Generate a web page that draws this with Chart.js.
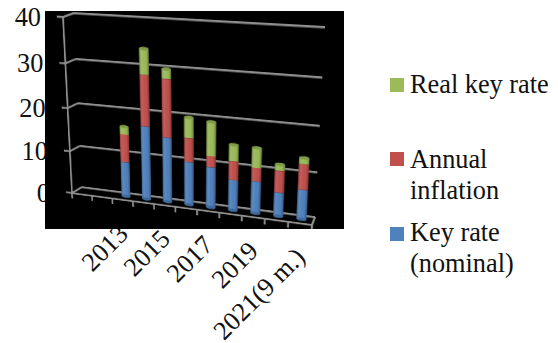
<!DOCTYPE html>
<html>
<head>
<meta charset="utf-8">
<script src="https://cdn.jsdelivr.net/npm/chart.js@4"></script>
<style>
  html, body { margin: 0; padding: 0; background: #fff; }
  body { width: 558px; height: 343px; overflow: hidden; position: relative;
         font-family: "Liberation Serif", serif; font-size: 26.3px; color: #111; }
  #plot { position: absolute; left: 45px; top: 11px; width: 299px; height: 218px;
          background: #000; overflow: hidden; }
  #plot canvas { position: absolute; left: -45px; top: -11px; transform-origin: 0 0; }
  .tick { position: absolute; white-space: nowrap; line-height: 1; }
  .ytick { transform: translate(-100%, -50%); }
  .xtick { transform: translate(-100%, -50%) rotate(-45deg); transform-origin: 100% 50%; }
  .swatch { position: absolute; left: 390px; width: 14px; height: 14px; }
  .entry { position: absolute; left: 410px; line-height: 31px; white-space: pre; }
</style>
</head>
<body>
<div id="plot"><canvas id="chart" width="420" height="320"></canvas></div>
<script>
const categories = ['', '', '2013', '2014', '2015', '2016', '2017', '2018', '2019', '2020', '2021(9 m.)'];
const keyRate = [null, null, 8.25, 17, 15, 10, 9.4, 7.1, 7.4, 5.5, 6.75];
const inflation = [null, null, 6.45, 11.36, 12.9, 5.4, 2.5, 4.2, 3.05, 4.9, 5.6];
const realRate = [null, null, 1.8, 5.64, 2.1, 4.6, 7.6, 3.7, 4.4, 1.4, 1.4];
const yTicks = [0, 10, 20, 30, 40];

const legendLabels = ['Real key rate', 'Annual\ninflation', 'Key rate\n(nominal)'];
const legendColors = ['#9BBB59', '#C0504D', '#4F81BD'];
const legendTops = [78, 152, 227];
const legendTextTops = [69, 144, 217];

// back wall corners on the page: top left, top right, bottom right, bottom left
const wall = [[74, 13], [325, 27], [315, 217], [82, 187]];
// front plane corners on the page: bottom left, bottom right, top left
const front = [[72, 193], [312, 225], [63, 17]];
const barDepth = 0.6;   // bars stand between the wall (0) and the front (1)

const gridColor = '#8f8f8f';

let H = null;

function buildHomography(area) {
  const [[x0, y0], [x1, y1], [x2, y2], [x3, y3]] = wall;
  const dx1 = x1 - x2, dx2 = x3 - x2, sx = x0 - x1 + x2 - x3;
  const dy1 = y1 - y2, dy2 = y3 - y2, sy = y0 - y1 + y2 - y3;
  const den = dx1 * dy2 - dx2 * dy1;
  const g = (sx * dy2 - dx2 * sy) / den;
  const h = (dx1 * sy - sx * dy1) / den;
  const a = x1 - x0 + g * x1, b = x3 - x0 + h * x3;
  const d = y1 - y0 + g * y1, e = y3 - y0 + h * y3;
  const W = area.right - area.left, Ht = area.bottom - area.top;
  const L = area.left, T = area.top;
  return [
    a / W, b / Ht, x0 - a * L / W - b * T / Ht,
    d / W, e / Ht, y0 - d * L / W - e * T / Ht,
    g / W, h / Ht, 1 - g * L / W - h * T / Ht
  ];
}

function toPage(p) {
  const w = H[6] * p[0] + H[7] * p[1] + H[8];
  return [(H[0] * p[0] + H[1] * p[1] + H[2]) / w, (H[3] * p[0] + H[4] * p[1] + H[5]) / w];
}

function fromPage(p) {
  // inverse of a 3x3 through its adjugate
  const m = H;
  const inv = [
    m[4] * m[8] - m[5] * m[7], m[2] * m[7] - m[1] * m[8], m[1] * m[5] - m[2] * m[4],
    m[5] * m[6] - m[3] * m[8], m[0] * m[8] - m[2] * m[6], m[2] * m[3] - m[0] * m[5],
    m[3] * m[7] - m[4] * m[6], m[1] * m[6] - m[0] * m[7], m[0] * m[4] - m[1] * m[3]
  ];
  const w = inv[6] * p[0] + inv[7] * p[1] + inv[8];
  return [(inv[0] * p[0] + inv[1] * p[1] + inv[2]) / w, (inv[3] * p[0] + inv[4] * p[1] + inv[5]) / w];
}

// affine step in canvas space from the wall plane to a plane in front of it
function planeMatrix(area, t) {
  const A = fromPage(front[0]), B = fromPage(front[1]), C = fromPage(front[2]);
  const W = area.right - area.left, Ht = area.bottom - area.top;
  const ax = (B[0] - A[0]) / W, ay = (B[1] - A[1]) / W;
  const cx = (A[0] - C[0]) / Ht, cy = (A[1] - C[1]) / Ht;
  const ex = A[0] - ax * area.left - cx * area.bottom;
  const ey = A[1] - ay * area.left - cy * area.bottom;
  return [1 - t + t * ax, t * ay, t * cx, 1 - t + t * cy, t * ex, t * ey];
}

function applyPlane(m, x, y) {
  return [m[0] * x + m[2] * y + m[4], m[1] * x + m[3] * y + m[5]];
}

const perspectivePlugin = {
  id: 'perspective',
  afterLayout(chart) {
    H = buildHomography(chart.chartArea);
    chart.canvas.style.transform = 'matrix3d(' + [
      H[0], H[3], 0, H[6],
      H[1], H[4], 0, H[7],
      0, 0, 1, 0,
      H[2], H[5], 0, H[8]
    ].join(',') + ')';
  },
  beforeDatasetsDraw(chart) {
    const { ctx, chartArea: area, scales } = chart;
    const m = planeMatrix(area, 1);
    const line = (p, q) => {
      ctx.moveTo(p[0], p[1]);
      ctx.lineTo(q[0], q[1]);
    };
    ctx.save();
    ctx.strokeStyle = gridColor;
    ctx.lineWidth = 2.4;
    ctx.beginPath();
    // side wall and y axis
    yTicks.forEach(v => {
      const y = scales.y.getPixelForValue(v);
      line(applyPlane(m, area.left - 8, y), applyPlane(m, area.left, y));
      line(applyPlane(m, area.left, y), [area.left, y]);
    });
    line(applyPlane(m, area.left, area.top), applyPlane(m, area.left, area.bottom));
    // floor
    line(applyPlane(m, area.left, area.bottom), applyPlane(m, area.right, area.bottom));
    line(applyPlane(m, area.right, area.bottom), [area.right, area.bottom]);
    const step = (area.right - area.left) / categories.length;
    for (let i = 0; i <= categories.length; i++) {
      const x = area.left + i * step;
      line(applyPlane(m, x, area.bottom), applyPlane(m, x, area.bottom + 7));
    }
    ctx.stroke();
    ctx.restore();

    const b = planeMatrix(area, barDepth);
    ctx.save();
    ctx.transform(b[0], b[1], b[2], b[3], b[4], b[5]);
  },
  afterDatasetsDraw(chart) {
    const ctx = chart.ctx;
    // round the bars off so they read as cylinders
    chart.data.datasets.forEach((ds, i) => {
      chart.getDatasetMeta(i).data.forEach((el, j) => {
        if (ds.data[j] === null) return;
        const left = el.x - el.width / 2;
        const g = ctx.createLinearGradient(left, 0, left + el.width, 0);
        g.addColorStop(0, 'rgba(0,0,0,0.28)');
        g.addColorStop(0.3, 'rgba(255,255,255,0.06)');
        g.addColorStop(0.7, 'rgba(0,0,0,0)');
        g.addColorStop(1, 'rgba(0,0,0,0.3)');
        ctx.fillStyle = g;
        ctx.fillRect(left, el.y, el.width, el.base - el.y);
        if (i === 0) {
          ctx.fillStyle = '#3f6a9e';
          ctx.beginPath();
          ctx.ellipse(el.x, el.base, el.width / 2, 2, 0, 0, Math.PI * 2);
          ctx.fill();
        }
        if (i === chart.data.datasets.length - 1) {
          ctx.fillStyle = '#7f9c48';
          ctx.beginPath();
          ctx.ellipse(el.x, el.y, el.width / 2, 2, 0, 0, Math.PI * 2);
          ctx.fill();
        }
      });
    });
    ctx.restore();
  }
};

const chart = new Chart(document.getElementById('chart').getContext('2d'), {
  type: 'bar',
  data: {
    labels: categories,
    datasets: [
      { label: 'Key rate (nominal)', data: keyRate, backgroundColor: '#4F81BD' },
      { label: 'Annual inflation', data: inflation, backgroundColor: '#C0504D' },
      { label: 'Real key rate', data: realRate, backgroundColor: '#9BBB59' }
    ]
  },
  options: {
    responsive: false,
    animation: false,
    devicePixelRatio: 1,
    clip: false,
    barPercentage: 0.6,
    categoryPercentage: 0.72,
    layout: { padding: { left: 60, right: 60, top: 50, bottom: 50 } },
    plugins: { legend: { display: false }, tooltip: { enabled: false } },
    scales: {
      x: {
        stacked: true,
        grid: { display: false },
        border: { display: false },
        ticks: { display: false }
      },
      y: {
        stacked: true,
        min: 0,
        max: 40,
        grid: { color: gridColor, lineWidth: 2.4, drawTicks: false },
        border: { display: false },
        ticks: { display: false, stepSize: 10 }
      }
    }
  },
  plugins: [perspectivePlugin]
});

// tick labels sit under the black plot, as in the picture
function addText(cls, text, x, y) {
  const el = document.createElement('div');
  el.className = cls;
  el.textContent = text;
  el.style.left = x + 'px';
  el.style.top = y + 'px';
  document.body.insertBefore(el, document.getElementById('plot'));
}

const area = chart.chartArea;
const fm = planeMatrix(area, 1);
yTicks.forEach(v => {
  const p = toPage(applyPlane(fm, area.left, chart.scales.y.getPixelForValue(v)));
  addText('tick ytick', String(v), p[0] - 22, p[1] + 1);
});
categories.forEach((c, i) => {
  if (!c || i % 2) return;
  const p = toPage(applyPlane(fm, chart.scales.x.getPixelForTick(i), area.bottom));
  addText('tick xtick', c, p[0] + 1, p[1] + 30);
});

legendLabels.forEach((label, i) => {
  const sw = document.createElement('div');
  sw.className = 'swatch';
  sw.style.top = legendTops[i] + 'px';
  sw.style.background = legendColors[i];
  document.body.appendChild(sw);
  const t = document.createElement('div');
  t.className = 'entry';
  t.style.top = legendTextTops[i] + 'px';
  t.textContent = label;
  document.body.appendChild(t);
});
</script>
</body>
</html>
